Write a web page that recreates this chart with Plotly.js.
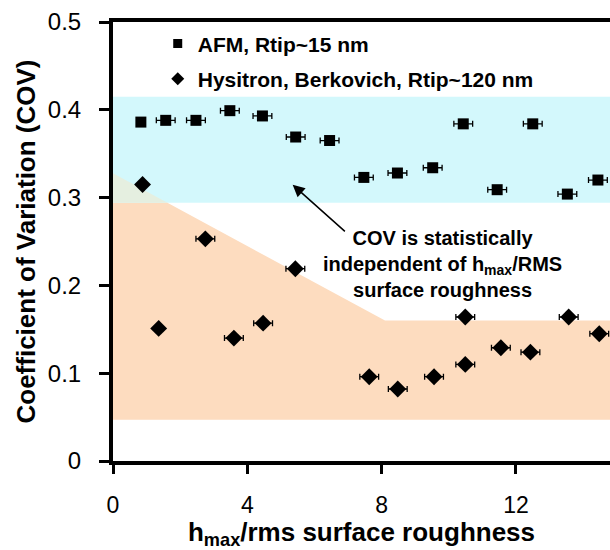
<!DOCTYPE html>
<html>
<head>
<meta charset="utf-8">
<script src="https://cdn.plot.ly/plotly-3.0.1.min.js"></script>
<style>html,body{margin:0;padding:0;background:#fff}#chart{width:610px;height:550px}</style>
</head>
<body>
<div id="chart"></div>
<script>
// AFM, Rtip~15 nm
const afmX = [0.83, 1.57, 2.47, 3.48, 4.45, 5.44, 6.45, 7.47, 8.47, 9.52, 10.43, 11.44, 12.50, 13.53, 14.44];
const afmY = [0.386, 0.388, 0.388, 0.399, 0.393, 0.369, 0.365, 0.323, 0.328, 0.334, 0.384, 0.309, 0.384, 0.304, 0.320];
const afmErr = [0, 0.28, 0.28, 0.28, 0.28, 0.28, 0.28, 0.28, 0.28, 0.28, 0.28, 0.28, 0.28, 0.28, 0.28];
// Hysitron, Berkovich, Rtip~120 nm
const hysX = [0.88, 1.36, 2.75, 3.60, 4.47, 5.43, 7.63, 8.48, 9.56, 10.49, 10.49, 11.55, 12.43, 13.57, 14.48];
const hysY = [0.315, 0.151, 0.253, 0.140, 0.157, 0.219, 0.096, 0.082, 0.096, 0.164, 0.110, 0.129, 0.124, 0.164, 0.145];
const hysErr = [0, 0, 0.28, 0.28, 0.28, 0.28, 0.28, 0.28, 0.28, 0.28, 0.28, 0.28, 0.28, 0.28, 0.28];
// Series names
const seriesNames = ['AFM, Rtip~15 nm', 'Hysitron, Berkovich, Rtip~120 nm'];
// Axis ticks
const xTicks = [0, 4, 8, 12];
const yTicks = [0, 0.1, 0.2, 0.3, 0.4, 0.5];
const yTickText = ['0', '0.1', '0.2', '0.3', '0.4', '0.5'];

const FONT = 'Liberation Sans, Arial, Helvetica, sans-serif';

const errStyle = {type: 'data', symmetric: true, color: '#000', thickness: 1.3, width: 3};

const traces = [
  {x: afmX, y: afmY, type: 'scatter', mode: 'markers', showlegend: false,
   marker: {symbol: 'square', size: 11, color: '#000'},
   error_x: Object.assign({array: afmErr}, errStyle)},
  {x: hysX, y: hysY, type: 'scatter', mode: 'markers', showlegend: false,
   marker: {symbol: 'diamond', size: 13, color: '#000'},
   error_x: Object.assign({array: hysErr}, errStyle)},
  // legend entries (smaller legend symbols, as in the reference)
  {x: [null], y: [null], type: 'scatter', mode: 'markers', name: '<b>' + seriesNames[0] + '</b>',
   legendgroup: 'a', marker: {symbol: 'square', size: 9, color: '#000'}},
  {x: [null], y: [null], type: 'scatter', mode: 'markers', name: '<b>' + seriesNames[1] + '</b>',
   legendgroup: 'b', marker: {symbol: 'diamond', size: 10, color: '#000'}}
];

const layout = {
  width: 610, height: 550,
  margin: {l: 113, r: 0, t: 22, b: 89, pad: 0},
  paper_bgcolor: '#fff', plot_bgcolor: '#fff',
  font: {family: FONT, color: '#000'},
  showlegend: true,
  legend: {x: 0.09, y: 0.997, xanchor: 'left', yanchor: 'top', bgcolor: 'rgba(0,0,0,0)',
           font: {size: 21, family: FONT}, tracegroupgap: 5, traceorder: 'grouped'},
  xaxis: {range: [0, 14.8], tickvals: xTicks, ticks: 'outside', ticklen: 9, tickwidth: 3,
          tickcolor: '#000', showline: true, linewidth: 4, linecolor: '#000', mirror: true,
          showgrid: false, zeroline: false, tickfont: {size: 23, family: FONT},
          ticklabelstandoff: 11,
          title: {text: '<b>h<sub>max</sub>/rms surface roughness</b>', font: {size: 26, family: FONT}, standoff: 8}},
  yaxis: {range: [0, 0.5], tickvals: yTicks, ticktext: yTickText,
          ticks: 'outside', ticklen: 10, tickwidth: 3,
          tickcolor: '#000', showline: true, linewidth: 4, linecolor: '#000', mirror: false,
          showgrid: false, zeroline: false, tickfont: {size: 24, family: FONT},
          ticklabelstandoff: 13,
          title: {text: '<b>Coefficient of Variation (COV)</b>', font: {size: 26, family: FONT}, standoff: 6}},
  shapes: [
    {type: 'rect', xref: 'paper', yref: 'y', x0: 0, x1: 1, y0: 0.294, y1: 0.415,
     fillcolor: '#d3f8fc', line: {width: 0}, layer: 'below'},
    {type: 'path', xref: 'x', yref: 'y',
     path: 'M 0 0.047 L 0 0.294 L 1.62 0.294 L 8.1 0.16 L 15 0.16 L 15 0.047 Z',
     fillcolor: '#fddcbf', line: {width: 0}, layer: 'below'},
    {type: 'path', xref: 'x', yref: 'y',
     path: 'M 0 0.294 L 0 0.3276 L 1.62 0.294 Z',
     fillcolor: '#e5efe0', line: {width: 0}, layer: 'below'}
  ],
  annotations: [
    {x: 9.8, y: 0.2242, xref: 'x', yref: 'y', showarrow: false,
     text: '<b>COV is statistically<br>independent of h<sub>max</sub>/RMS<br>surface roughness</b>',
     font: {size: 20, family: FONT, color: '#000'}, align: 'center'},
    {x: 5.35, y: 0.3146, ax: 6.95, ay: 0.26, xref: 'x', yref: 'y', axref: 'x', ayref: 'y',
     text: '', showarrow: true, arrowhead: 2, arrowsize: 1.6, arrowwidth: 1.5, arrowcolor: '#000'}
  ]
};

Plotly.newPlot('chart', traces, layout, {displayModeBar: false, staticPlot: true});
</script>
</body>
</html>
